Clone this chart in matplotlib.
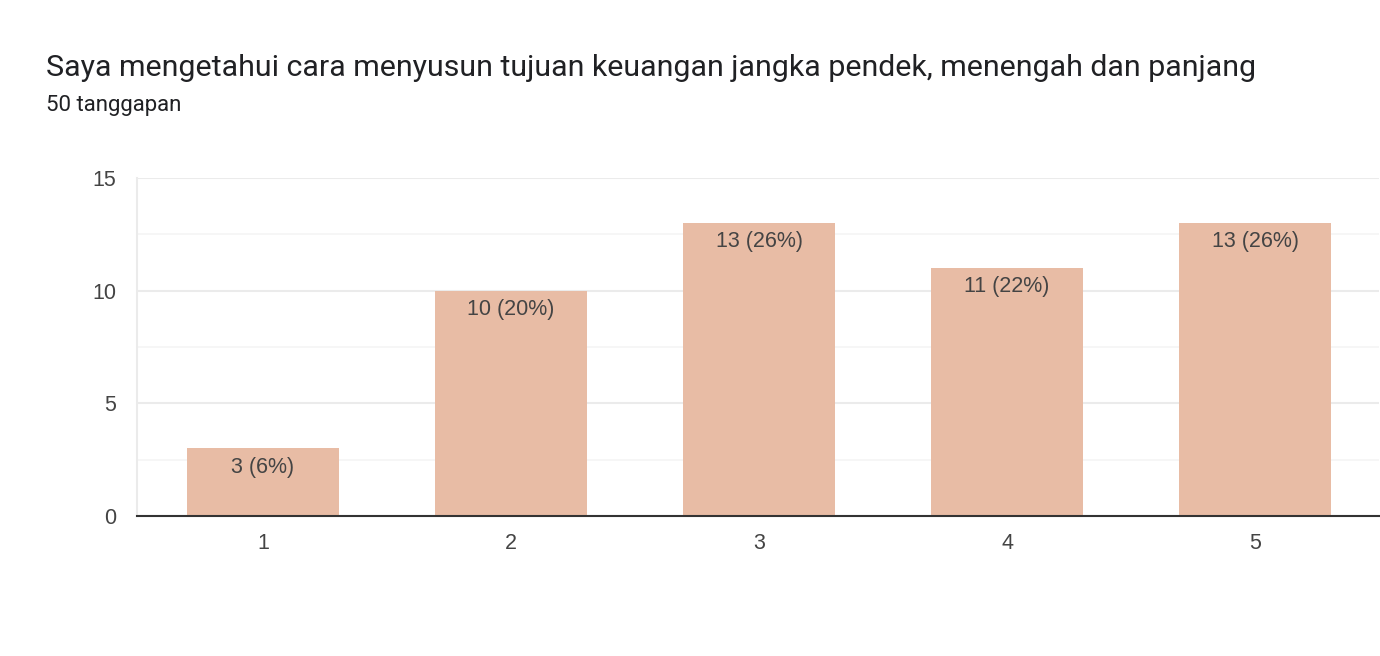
import matplotlib
matplotlib.use("Agg")
import matplotlib.pyplot as plt
from matplotlib.ticker import MultipleLocator

categories = ["1", "2", "3", "4", "5"]
counts = [3, 10, 13, 11, 13]
total = 50
title = "Saya mengetahui cara menyusun tujuan keuangan jangka pendek, menengah dan panjang"
subtitle = "50 tanggapan"

plt.rcParams['font.family'] = ['Roboto', 'DejaVu Sans']
label_font = ['Liberation Sans', 'DejaVu Sans']

fig = plt.figure(figsize=(13.8, 6.56), dpi=100)
ax = fig.add_axes([137/1380, 1 - 516/656, 1242/1380, (516-178)/656])

x = list(range(len(categories)))
bar_color = "#E8BCA5"
ax.bar(x, counts, width=0.613, color=bar_color, zorder=3)
ax.set_xlim(-0.5 - 2/248, len(categories) - 0.5)
ax.set_ylim(0, 15)
ax.yaxis.set_major_locator(MultipleLocator(5))
ax.yaxis.set_minor_locator(MultipleLocator(2.5))
ax.grid(axis='y', which='major', color='#EBEBEB', linewidth=1.5, zorder=0)
ax.grid(axis='y', which='minor', color='#F5F5F5', linewidth=1.2, zorder=0)
ax.set_xticks(x)
ax.set_xticklabels(categories)
ax.tick_params(axis='both', which='both', length=0, labelsize=15.5, colors='#444444')
ax.tick_params(axis='x', pad=12)
ax.tick_params(axis='y', pad=15)
for lbl in ax.get_xticklabels() + ax.get_yticklabels():
    lbl.set_family(label_font)
for s in ['top', 'right']:
    ax.spines[s].set_visible(False)
ax.spines['left'].set_color('#EBEBEB')
ax.spines['left'].set_linewidth(1.5)
ax.spines['bottom'].set_color('#333333')
ax.spines['bottom'].set_linewidth(1.5)
ax.spines['bottom'].set_zorder(4)

for xi, c in zip(x, counts):
    ax.annotate(f"{c} ({round(c/total*100)}%)", xy=(xi, c), xytext=(0, -6),
                textcoords='offset points', ha='center', va='top',
                fontsize=15.5, color='#444444', zorder=5, family=label_font)

fig.text(46/1380, 1 - 68/656, title, fontsize=21.9, color='#202124', va='center', ha='left')
fig.text(46/1380, 1 - 106/656, subtitle, fontsize=16, color='#202124', va='center', ha='left')

fig.savefig("out.png", dpi=100, facecolor='white')
